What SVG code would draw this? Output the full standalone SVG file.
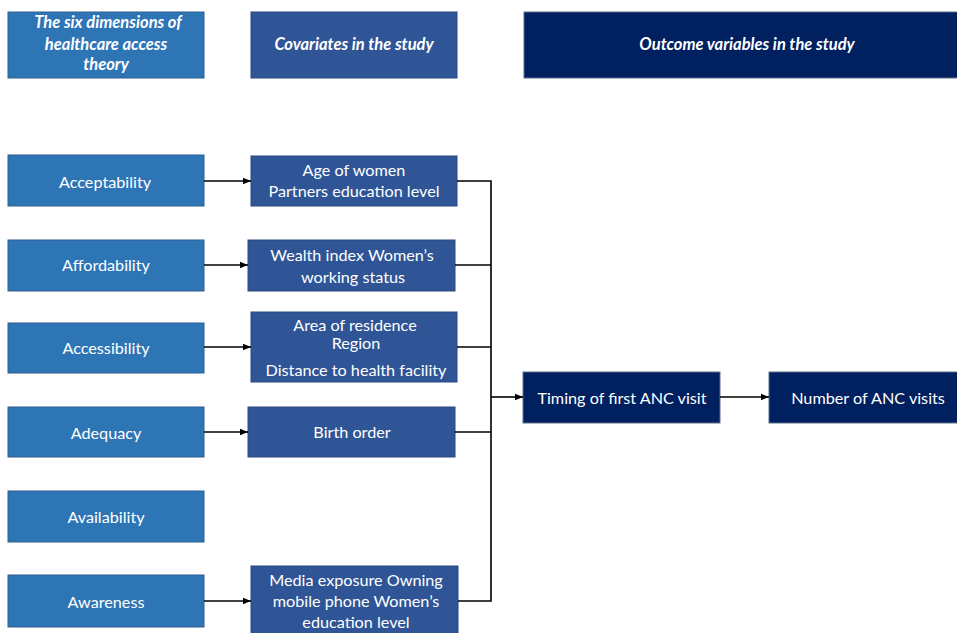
<svg xmlns="http://www.w3.org/2000/svg" width="957" height="633" viewBox="0 0 957 633">
<defs>
<marker id="ah" viewBox="0 0 10 10" refX="10" refY="5" markerWidth="8" markerHeight="8" markerUnits="userSpaceOnUse" orient="auto"><path d="M0,1 L10,5 L0,9 z" fill="#000"/></marker>
<style>
.dim{fill:#2E75B6;stroke:#2F5F8F;stroke-width:1}
.cov{fill:#2F5597;stroke:#2A4A80;stroke-width:1}
.out{fill:#002060;stroke:#5A6E8C;stroke-width:1}
text{font-family:Lato,"Liberation Sans",sans-serif;font-size:16.2px;fill:#fff;text-anchor:middle;dominant-baseline:central}
.hd{font-weight:bold;font-style:italic;font-size:16.5px}
.ln{fill:none;stroke:#000;stroke-width:1.6}
</style>
</defs>
<rect width="957" height="633" fill="#fff"/>
<g id="h1"><rect class="dim" x="8" y="12" width="196" height="66"/><text class="hd" x="108" y="22">The six dimensions of</text><text class="hd" x="106" y="44">healthcare access</text><text class="hd" x="106" y="64">theory</text></g>
<g id="h2"><rect class="cov" x="251" y="12" width="206" height="66"/><text class="hd" x="354" y="44">Covariates in the study</text></g>
<g id="h3"><rect class="out" x="524" y="12" width="440" height="66"/><text class="hd" x="747" y="44">Outcome variables in the study</text></g>

<g id="acceptability"><rect class="dim" x="8" y="155" width="196" height="51"/><text x="105" y="181">Acceptability</text></g>
<g id="affordability"><rect class="dim" x="8" y="240" width="196" height="51"/><text x="106" y="264">Affordability</text></g>
<g id="accessibility"><rect class="dim" x="8" y="323" width="196" height="50"/><text x="106" y="347">Accessibility</text></g>
<g id="adequacy"><rect class="dim" x="8" y="407" width="196" height="50"/><text x="106" y="432">Adequacy</text></g>
<g id="availability"><rect class="dim" x="8" y="491" width="196" height="51"/><text x="106" y="516">Availability</text></g>
<g id="awareness"><rect class="dim" x="8" y="575" width="196" height="52"/><text x="106" y="601">Awareness</text></g>

<g id="age"><rect class="cov" x="251" y="156" width="206" height="50"/><text x="354" y="169">Age of women</text><text x="354" y="190">Partners education level</text></g>
<g id="wealth"><rect class="cov" x="248" y="240" width="207" height="51"/><text x="352" y="254">Wealth index Women’s</text><text x="353" y="276">working status</text></g>
<g id="area"><rect class="cov" x="251" y="312" width="206" height="70"/><text x="355" y="324">Area of residence</text><text x="356" y="342">Region</text><text x="356" y="369">Distance to health facility</text></g>
<g id="birth"><rect class="cov" x="248" y="407" width="207" height="50"/><text x="352" y="431">Birth order</text></g>
<g id="media"><rect class="cov" x="251" y="566" width="207" height="70"/><text x="356" y="579">Media exposure Owning</text><text x="356" y="600">mobile phone Women’s</text><text x="356" y="621">education level</text></g>

<g id="timing"><rect class="out" x="523" y="372" width="197" height="51"/><text x="622" y="397">Timing of first ANC visit</text></g>
<g id="number"><rect class="out" x="769" y="372" width="192" height="51"/><text x="868" y="397">Number of ANC visits</text></g>

<g id="connectors">
<line class="ln" x1="204" y1="181" x2="251" y2="181" marker-end="url(#ah)"/>
<line class="ln" x1="204" y1="265" x2="248" y2="265" marker-end="url(#ah)"/>
<line class="ln" x1="204" y1="347" x2="251" y2="347" marker-end="url(#ah)"/>
<line class="ln" x1="204" y1="432" x2="248" y2="432" marker-end="url(#ah)"/>
<line class="ln" x1="204" y1="601" x2="251" y2="601" marker-end="url(#ah)"/>
<path class="ln" d="M457,181 H491 V601 H458"/>
<line class="ln" x1="455" y1="265" x2="491" y2="265"/>
<line class="ln" x1="457" y1="347" x2="491" y2="347"/>
<line class="ln" x1="455" y1="432" x2="491" y2="432"/>
<line class="ln" x1="491" y1="397" x2="523" y2="397" marker-end="url(#ah)"/>
<line class="ln" x1="720" y1="397" x2="769" y2="397" marker-end="url(#ah)"/>
</g>
</svg>
